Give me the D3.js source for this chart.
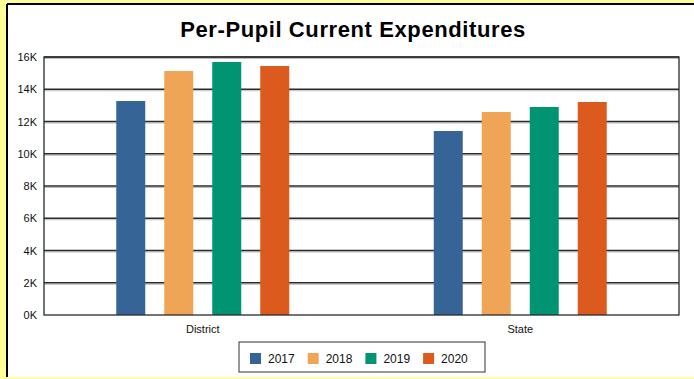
<!DOCTYPE html>
<html>
<head>
<meta charset="utf-8">
<script src="https://cdn.jsdelivr.net/npm/d3@7"></script>
<style>
  body { margin: 0; background: #ffff99; }
  svg { display: block; font-family: Arial, "Liberation Sans", sans-serif; }
</style>
</head>
<body>
<div id="vizDiv"></div>
<script>
var width = 694
var height = 379

// data
var categories = ["District", "State"]
var years = ["2017", "2018", "2019", "2020"]
var colors = ["#376497", "#f0a456", "#009473", "#dd5a1f"]
var values2017 = [13270, 11410]
var values2018 = [15130, 12590]
var values2019 = [15690, 12900]
var values2020 = [15440, 13210]
var yTicks = [0, 2000, 4000, 6000, 8000, 10000, 12000, 14000, 16000]

var series = [values2017, values2018, values2019, values2020]

var plotLeft = 44
var plotRight = 679
var plotTop = 57
var plotBottom = 315

var svg = d3.select("#vizDiv")
  .append("svg")
  .attr("width", width)
  .attr("height", height)

// white panel with black frame on top/left
svg.append("rect")
  .attr("x", 6).attr("y", 3)
  .attr("width", width).attr("height", 374)
  .attr("fill", "white")
svg.append("line")
  .attr("x1", 7).attr("x2", width).attr("y1", 4).attr("y2", 4)
  .attr("stroke", "black").attr("stroke-width", 2)
svg.append("line")
  .attr("x1", 7).attr("x2", 7).attr("y1", 4).attr("y2", 377)
  .attr("stroke", "black").attr("stroke-width", 2)

svg.append("text")
  .attr("x", 353)
  .attr("y", 37)
  .attr("text-anchor", "middle")
  .style("font-size", "22px")
  .style("letter-spacing", "0.6px")
  .style("font-weight", "bold")
  .text("Per-Pupil Current Expenditures")

var x0 = d3.scaleBand()
  .domain(categories)
  .range([plotLeft, plotRight])

var groupWidth = 192
var x1 = d3.scaleBand()
  .domain(years)
  .range([0, groupWidth])
  .paddingInner(0.396)
  .paddingOuter(0.198)

var y = d3.scaleLinear()
  .domain([0, 16000])
  .range([plotBottom, plotTop])

// grid lines (dark with a soft shadow underneath)
var grid = svg.append("g")
yTicks.forEach(function (t) {
  if (t == 0) return
  grid.append("line")
    .attr("x1", plotLeft).attr("x2", plotRight)
    .attr("y1", y(t) + 1.5).attr("y2", y(t) + 1.5)
    .attr("stroke", "#bbb").attr("stroke-width", 1)
  grid.append("line")
    .attr("x1", plotLeft).attr("x2", plotRight)
    .attr("y1", y(t)).attr("y2", y(t))
    .attr("stroke", "#2a2a2a").attr("stroke-width", 1.3)
})

// bars
var groupOffset = (x0.bandwidth() - groupWidth) / 2
series.forEach(function (vals, s) {
  svg.append("g")
    .selectAll("rect")
    .data(vals)
    .enter()
    .append("rect")
    .attr("x", function (d, i) { return x0(categories[i]) + groupOffset + x1(years[s]) })
    .attr("y", function (d) { return y(d) })
    .attr("width", x1.bandwidth())
    .attr("height", function (d) { return y(0) - y(d) })
    .attr("fill", colors[s])
})

// plot frame
svg.append("rect")
  .attr("x", plotLeft).attr("y", plotTop)
  .attr("width", plotRight - plotLeft).attr("height", plotBottom - plotTop)
  .attr("fill", "none")
  .attr("stroke", "#2a2a2a").attr("stroke-width", 1.3)

// y axis labels
var yAxis = d3.axisLeft(y)
  .tickValues(yTicks)
  .tickSize(0)
  .tickPadding(7)
  .tickFormat(function (d) { return (d / 1000) + "K" })
var yg = svg.append("g")
  .attr("transform", "translate(" + plotLeft + ",0)")
  .call(yAxis)
yg.select(".domain").remove()
yg.selectAll("text")
  .style("font-size", "11px")
  .style("font-family", "Arial, 'Liberation Sans', sans-serif")
  .attr("fill", "#111")

// x axis labels
var xAxis = d3.axisBottom(x0).tickSize(0).tickPadding(10)
var xg = svg.append("g")
  .attr("transform", "translate(0," + plotBottom + ")")
  .call(xAxis)
xg.select(".domain").remove()
xg.selectAll("text")
  .style("font-size", "11px")
  .style("font-family", "Arial, 'Liberation Sans', sans-serif")
  .attr("fill", "#111")

// legend
var legend = svg.append("g")
legend.append("rect")
  .attr("x", 239).attr("y", 342)
  .attr("width", 246).attr("height", 30)
  .attr("fill", "white")
  .attr("stroke", "#333").attr("stroke-width", 1)
years.forEach(function (yr, i) {
  var lx = 250 + i * 57.7
  legend.append("rect")
    .attr("x", lx).attr("y", 353)
    .attr("width", 11).attr("height", 11)
    .attr("fill", colors[i])
  legend.append("text")
    .attr("x", lx + 18).attr("y", 362.5)
    .style("font-size", "12px")
    .attr("fill", "#111")
    .text(yr)
})
</script>
</body>
</html>
